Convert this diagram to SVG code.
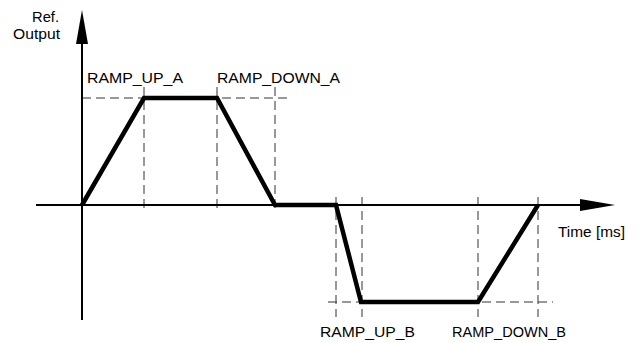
<svg xmlns="http://www.w3.org/2000/svg" width="640" height="343" viewBox="0 0 640 343">
<style>
.t{font-family:"Liberation Sans",Arial,sans-serif;font-size:15px;fill:#000}
.d{stroke:#333;stroke-width:1;stroke-dasharray:9,5;fill:none}
.ax{stroke:#000;stroke-width:2;fill:none}
.c{stroke:#000;stroke-width:4.5;fill:none;stroke-linejoin:miter}
</style>
<rect width="640" height="343" fill="#fff"/>
<g id="guides">
<path class="d" d="M82 98H287"/>
<path class="d" d="M144 87V213"/>
<path class="d" d="M217 87V213"/>
<path class="d" d="M275 87V213"/>
<path class="d" d="M328 302H553"/>
<path class="d" d="M336 197V317"/>
<path class="d" d="M362 197V317"/>
<path class="d" d="M478 197V317"/>
<path class="d" d="M538 197V317"/>
</g>
<g id="axes">
<path class="ax" d="M82 40V320"/>
<polygon points="82,10 76,44 88,44" fill="#000"/>
<path class="ax" d="M36 205H585"/>
<polygon points="615,205 580,199 580,211" fill="#000"/>
</g>
<g id="curve">
<polyline class="c" points="82,205 144,98 217,98 275,205 336,205 361,302 478,302 538,205"/>
</g>
<g id="labels">
<text class="t" x="32" y="22" textLength="27" lengthAdjust="spacingAndGlyphs">Ref.</text>
<text class="t" x="13" y="39" textLength="47" lengthAdjust="spacingAndGlyphs">Output</text>
<text class="t" x="87" y="83" textLength="96" lengthAdjust="spacingAndGlyphs">RAMP_UP_A</text>
<text class="t" x="217" y="83" textLength="123" lengthAdjust="spacingAndGlyphs">RAMP_DOWN_A</text>
<text class="t" x="558" y="237" textLength="67" lengthAdjust="spacingAndGlyphs">Time [ms]</text>
<text class="t" x="320" y="337" textLength="95" lengthAdjust="spacingAndGlyphs">RAMP_UP_B</text>
<text class="t" x="452" y="337" textLength="114" lengthAdjust="spacingAndGlyphs">RAMP_DOWN_B</text>
</g>
</svg>
